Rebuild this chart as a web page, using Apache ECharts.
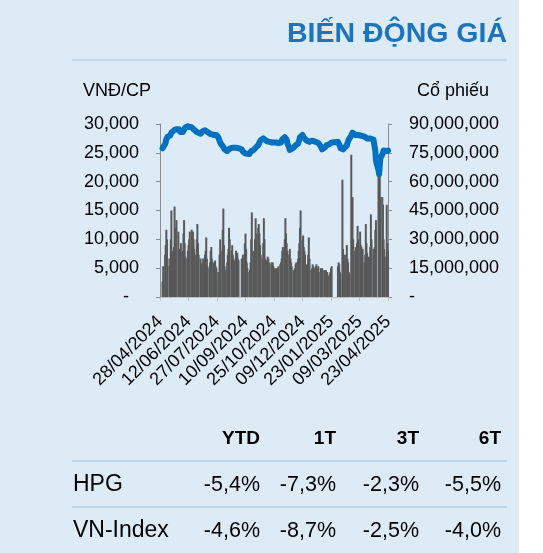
<!DOCTYPE html>
<html><head><meta charset="utf-8">
<script src="https://cdn.jsdelivr.net/npm/echarts@6/dist/echarts.min.js"></script>
<style>html,body{margin:0;padding:0;background:#fff;}#c{width:543px;height:553px;}</style>
</head><body><div id="c"></div>
<script>
// ---- data ----
const startDate = [2024, 3, 28];   // 28/04/2024 (axis min)
const endDate = [2025, 3, 23];     // 23/04/2025 (axis max)
const holidays = ['2024-04-29','2024-04-30','2024-05-01','2024-09-02','2024-09-03',
  '2025-01-01','2025-01-27','2025-01-28','2025-01-29','2025-01-30','2025-01-31','2025-04-07'];

// closing price (VND/share), one value per trading day
const closePrice = [
  25800,26100,26500,26900,27300,27500,27800,27700,28000,28300,28500,28700,28900,29100,29200,29000,29100,29300,29100,28800,28600,28500, // May-24
  28600,28800,29000,29200,29400,29500,29600,29700,29500,29600,29400,29300,29400,29200,29000,28800,28600,28400,28300,28300, // Jun-24
  28300,28400,28500,28700,28800,28900,28900,29000,28800,28600,28400,28300,28200,28100,28000,28100,28000,28100,28200,28100,27700,27400,27100, // Jul-24
  26900,26600,26300,26000,25800,25600,25400,25300,25200,25300,25500,25700,25800,25900,26000,26100,26000,25900,26000,26100,26000,25800, // Aug-24
  25600,25400,25200,25000,24900,25000,24900,24800,24800,24800,25100,25300,25400,25500,25700,25800,25900,26000,26300, // Sep-24
  26500,26800,27000,27200,27400,27500,27400,27500,27300,27000,26900,26800,26700,26900,27000,26800,26700,26600,26700,26800,26900,27000,26800, // Oct-24
  26700,26600,26800,27100,27300,27500,27700,27600,27500,27300,26700,25900,25500,25400,25600,25800,25900,26100,26200,26300,26400, // Nov-24
  26600,26900,27300,27700,27900,28100,27900,27600,27400,27300,27100,27000,27200,27100,26900,27000,27100,27000,26900,26800,26900,27000, // Dec-24
  26900,26700,26400,26100,25800,25600,25700,25900,26000,26200,26300,26400,26500,26600,26700,26700,26800, // Jan-25
  26900,26800,26600,26200,25800,25500,25600,25500,25600,25900,26300,26700,27000,27300,27600,28000,28300,28500,28400,28200, // Feb-25
  28100,28000,27900,28000,28100,28200,28000,27900,27800,27700,27800,27700,27600,27700,27500,27400,27500,27400,27300,27200,27300, // Mar-25
  27200,27100,25300,23600,22000,21300,22800,24100,24700,25000,25400,25600,25500,25300,25200,25400  // Apr-25
];
// traded volume (million shares), one value per trading day
const volumeMil = [
  8,16,22,27,35,30,20,16,20,30,45,24,26,47,36,30,40,34,22,25,24,28, // May-24
  24,33,40,28,21,20,24,27,30,34,35,33,34,30,25,22,30,38,28,22, // Jun-24
  20,17,16,18,20,22,24,31,20,16,15,18,24,26,20,18,17,19,16,15,13,12,22, // Jul-24
  30,24,35,46,27,16,14,18,22,25,36,30,24,27,22,20,19,24,22,23,20,19, // Aug-24
  20,19,22,28,33,25,18,15,13,14,18,30,44,24,22,30,41,33,36, // Sep-24
  38,33,27,22,20,28,41,30,20,19,21,20,18,17,18,17,18,16,15,15,13,12,15, // Oct-24
  16,17,18,20,24,26,30,41,33,28,24,22,25,20,18,16,14,13,15,17,18, // Nov-24
  20,24,28,36,45,30,32,26,24,22,17,15,22,31,20,14,15,17,16,15,16,17, // Dec-24
  15,16,13,15,14,15,14,14,13,14,12,13,11,12,13,15,16, // Jan-25
  16,18,17,13,12,61,25,20,18,22,27,20,18,13,12,74,40,52,30,24, // Feb-25
  26,22,28,37,30,34,27,26,24,25,18,22,38,28,23,21,18,26,43,30,25, // Mar-25
  22,26,35,40,65,66,63,52,52,48,30,25,21,48,28,24  // Apr-25
];
const titleText = 'BIẾN ĐỘNG GIÁ';
const leftAxisName = 'VNĐ/CP';
const rightAxisName = 'Cổ phiếu';
const tableCols = ['YTD', '1T', '3T', '6T'];
const tableRowNames = ['HPG', 'VN-Index'];
const rowHPG = ['-5,4%', '-7,3%', '-2,3%', '-5,5%'];
const rowVNI = ['-4,6%', '-8,7%', '-2,5%', '-4,0%'];

// ---- build calendar category axis ----
const pad = n => (n < 10 ? '0' : '') + n;
const cats = [], priceData = [], volData = [];
let d = new Date(Date.UTC(startDate[0], startDate[1], startDate[2]));
const end = new Date(Date.UTC(endDate[0], endDate[1], endDate[2]));
let k = 0, idx = 0;
while (d <= end) {
  const iso = d.toISOString().slice(0, 10);
  cats.push(pad(d.getUTCDate()) + '/' + pad(d.getUTCMonth() + 1) + '/' + d.getUTCFullYear());
  const wd = d.getUTCDay();
  if (wd !== 0 && wd !== 6 && holidays.indexOf(iso) < 0 && k < closePrice.length) {
    priceData.push(closePrice[k]);
    volData.push([idx, volumeMil[k] * 1e6]);
    k++;
  } else {
    priceData.push(null);
  }
  idx++;
  d = new Date(d.getTime() + 86400000);
}

const FONT = 'Liberation Sans, Arial, sans-serif';
const fmt = v => v.toLocaleString('en-US');
const lineCol = '#BDD7EE';
const BAR_W = 2.0;

const graphics = [
  { type: 'rect', z: -10, silent: true, shape: { x: 0, y: 0, width: 519, height: 553 }, style: { fill: '#DDEBF7' } },
  { type: 'text', x: 507, y: 34, style: { text: titleText, align: 'right', verticalAlign: 'middle', font: 'bold 28.5px ' + FONT, fill: '#1C75BC' } },
  { type: 'line', shape: { x1: 72, y1: 60, x2: 507, y2: 60 }, style: { stroke: lineCol, lineWidth: 2 } },
  { type: 'text', x: 83, y: 91, style: { text: leftAxisName, align: 'left', verticalAlign: 'middle', font: '18px ' + FONT, fill: '#000' } },
  { type: 'text', x: 489, y: 91, style: { text: rightAxisName, align: 'right', verticalAlign: 'middle', font: '18px ' + FONT, fill: '#000' } },
  { type: 'line', shape: { x1: 72, y1: 461, x2: 507, y2: 461 }, style: { stroke: lineCol, lineWidth: 2 } },
  { type: 'line', shape: { x1: 72, y1: 507, x2: 507, y2: 507 }, style: { stroke: lineCol, lineWidth: 2 } }
];
const colX = [260, 336, 419, 501];
tableCols.forEach((t, i) => graphics.push({ type: 'text', x: colX[i], y: 439,
  style: { text: t, align: 'right', verticalAlign: 'middle', font: 'bold 19px ' + FONT, fill: '#000' } }));
const rowY = [485, 531];
[rowHPG, rowVNI].forEach((row, r) => {
  graphics.push({ type: 'text', x: 73, y: rowY[r],
    style: { text: tableRowNames[r], align: 'left', verticalAlign: 'middle', font: '23px ' + FONT, fill: '#000' } });
  row.forEach((t, i) => graphics.push({ type: 'text', x: colX[i], y: rowY[r],
    style: { text: t, align: 'right', verticalAlign: 'middle', font: '21.5px ' + FONT, fill: '#000' } }));
});

const chart = echarts.init(document.getElementById('c'));
chart.setOption({
  animation: false,
  graphic: graphics,
  grid: { left: 160, right: 155, top: 124, bottom: 256, containLabel: false },
  xAxis: {
    type: 'category', data: cats, boundaryGap: false,
    axisLine: { show: true, lineStyle: { color: '#BFBFBF', width: 1 } },
    axisTick: { show: true, interval: 44, length: 4, lineStyle: { color: '#BFBFBF' } },
    axisLabel: { interval: 44, rotate: 45, margin: 22, fontSize: 18, fontFamily: FONT, color: '#000' },
    splitLine: { show: false }
  },
  yAxis: [
    { type: 'value', position: 'left', min: 0, max: 30000, interval: 5000,
      axisLine: { show: true, lineStyle: { color: '#8C8C8C' } },
      axisTick: { show: true, length: 4, lineStyle: { color: '#8C8C8C' } },
      axisLabel: { margin: 21, fontSize: 18, fontFamily: FONT, color: '#000',
        formatter: v => (v === 0 ? '-\u00a0\u00a0' : fmt(v)) },
      splitLine: { show: false } },
    { type: 'value', position: 'right', min: 0, max: 90000000, interval: 15000000,
      axisLine: { show: true, lineStyle: { color: '#8C8C8C' } },
      axisTick: { show: true, length: 4, lineStyle: { color: '#8C8C8C' } },
      axisLabel: { margin: 21, fontSize: 18, fontFamily: FONT, color: '#000',
        formatter: v => (v === 0 ? '-' : fmt(v)) },
      splitLine: { show: false } }
  ],
  series: [
    { type: 'custom', yAxisIndex: 1, data: volData, z: 2, clip: false,
      encode: { x: 0, y: 1 },
      renderItem: (params, api) => {
        const top = api.coord([api.value(0), api.value(1)]);
        const base = api.coord([api.value(0), 0]);
        return { type: 'rect',
          shape: { x: top[0] - BAR_W / 2, y: top[1], width: BAR_W, height: base[1] - top[1] },
          style: { fill: '#595959' } };
      } },
    { type: 'line', yAxisIndex: 0, data: priceData, connectNulls: true, showSymbol: false, symbol: 'none',
      lineStyle: { width: 6, color: '#0070C0', cap: 'round', join: 'round' }, z: 3 }
  ]
});
</script></body></html>
